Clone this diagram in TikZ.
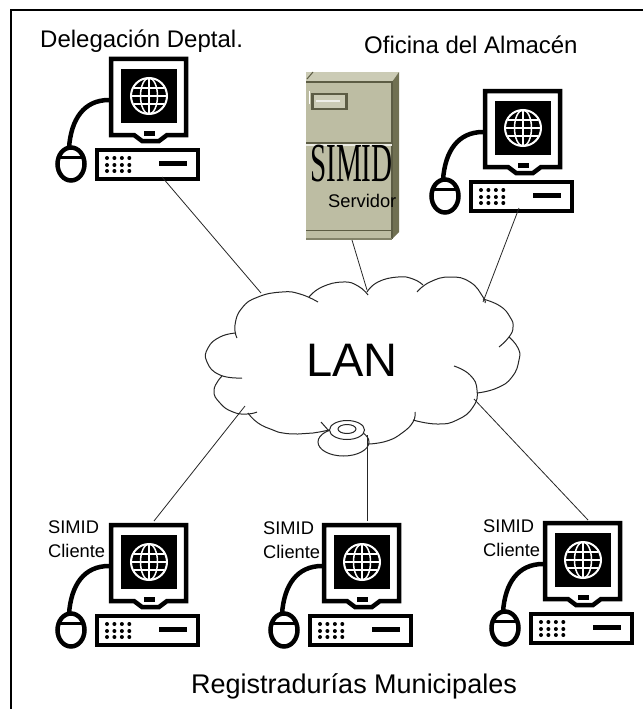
\documentclass[tikz,border=0pt]{standalone}
\usepackage{fontspec}
\setmainfont{Liberation Sans}
\newfontfamily\simidfont{Liberation Serif}
\definecolor{srvfront}{HTML}{BDBDA3}
\definecolor{srvtop}{HTML}{CBCBB5}
\definecolor{srvside}{HTML}{707052}
\definecolor{srvline}{HTML}{5C5C44}
\tikzset{
	pics/computer/.style={code={
		% cable and mouse
		\draw[line width=4.5pt] (0,43) .. controls (-25,43) and (-38,62) .. (-40,91);
		\draw[line width=4.5pt] (-38,107) ellipse [x radius=13.5pt, y radius=16.5pt];
		\draw[line width=3pt] (-50,100) -- (-26,100);
		% monitor
		\draw[line width=4.5pt,fill=white] (2,2) -- (77,2) -- (77,78) -- (58,78) -- (50,84) -- (33,84) -- (25,78) -- (2,78) -- cycle;
		\fill (12,12) rectangle (68,66);
		\fill (35,74) rectangle (46,79);
		% globe
		\draw[white,line width=2pt] (40,39) circle [radius=18pt];
		\draw[white,line width=1.5pt] (40,39) ellipse [x radius=8.5pt, y radius=18pt];
		\draw[white,line width=1.5pt] (40,21) -- (40,57) (22,39) -- (58,39) (25,31) -- (55,31) (25,47) -- (55,47);
		% tower
		\draw[line width=4.5pt] (-12,93) rectangle (89,122);
		\fill (50,104) rectangle (78,109);
		\foreach \px in {-2,5.4,12.9,20.3}
			\foreach \py in {101,108,114}
				\fill (\px,\py) circle [radius=2pt];
	}}
}
\begin{document}
\begin{tikzpicture}[x=1pt,y=-1pt]

	\tikzstyle{cloudline}=[line width=1pt,black!85,smooth,tension=.85]
	\tikzstyle{link}=[line width=0.8pt,black!85]
	\tikzstyle{placetext}=[inner sep=0pt,anchor=base west,font=\fontsize{24}{24}\selectfont]
	\tikzstyle{smalltext}=[inner sep=0pt,anchor=base west,font=\fontsize{18.3}{24}\selectfont,align=left]

	\useasboundingbox (0,0) rectangle (643,709);
	\draw[line width=2pt] (10.5,709) -- (10.5,10.5) -- (643,10.5);

	% computers
	\pic (pcdel) at (109,57) {computer};
	\pic (pcalm) at (483,89) {computer};
	\pic (pcreg1) at (109,523) {computer};
	\pic (pcreg2) at (322,523) {computer};
	\pic (pcreg3) at (543,521) {computer};

	% server
	\fill[srvfront] (306,82) rectangle (392,239);
	\fill[srvtop] (306,72) -- (399,72) -- (392,82) -- (306,82) -- cycle;
	\fill[srvside] (392,82) -- (399,72) -- (399,232) -- (392,239) -- cycle;
	\draw[srvline,line width=1.5pt] (306,82) -- (392,82) -- (392,239);
	\draw[srvline,line width=1pt] (307,79) -- (313,72);
	\draw[srvline,line width=1.2pt] (306,143) -- (392,143);
	\draw[white!70!srvfront,line width=2pt] (306,145) -- (392,145);
	\draw[srvline,line width=1pt] (306,230) -- (392,230);
	\fill[srvline!60!srvfront] (306,238) rectangle (392,239.5);
	\draw[white,line width=1pt] (309,91) -- (309,104);
	\draw[srvline,line width=2.5pt,fill=srvtop] (312.5,94) rectangle (346.5,109);
	\draw[white!70!srvtop,line width=1.5pt] (316,101) -- (340,101);
	\node[inner sep=0pt,anchor=base west,xscale=.53,transform shape,font=\fontsize{55}{55}\simidfont] (srvname) at (310,181) {SIMID};
	\node[smalltext] (srvrole) at (328,207) {Servidor};

	% cloud
	\draw[cloudline] plot[smooth] coordinates {(237,338) (235,325) (242,308) (258,297) (282,292) (300,294) (318,302)};
	\draw[cloudline] plot[smooth] coordinates {(309,297) (322,287) (343,282) (358,286) (368,295)};
	\draw[cloudline] plot[smooth] coordinates {(367,292) (378,282) (398,277) (413,279) (423,285)};
	\draw[cloudline] plot[smooth] coordinates {(417,292) (430,282) (450,277) (470,282) (483,297) (485,303)};
	\draw[cloudline] plot[smooth] coordinates {(483,299) (500,306) (510,317) (513,327) (509,337) (499,347)};
	\draw[cloudline] plot[smooth] coordinates {(509,337) (518,348) (519,360) (512,377) (497,388) (477,393)};
	\draw[cloudline] plot[smooth] coordinates {(454,366) (470,375) (477,390) (473,407) (457,420) (437,424) (413,420)};
	\draw[cloudline] plot[smooth] coordinates {(415,412) (413,422) (402,433) (387,441) (369,444)};
	\draw[cloudline] plot[smooth] coordinates {(248,413) (258,423) (273,430) (283,433) (298,434) (313,433) (329,430)};
	\draw[cloudline] plot[smooth] coordinates {(222,376) (214,390) (220,403) (233,412) (247,414) (257,412)};
	\draw[cloudline] plot[smooth] coordinates {(236,333) (220,337) (208,348) (207,362) (220,375) (242,378)};
	\node[inner sep=0pt,anchor=base west,font=\fontsize{47}{47}\selectfont] (lan) at (306,376) {LAN};

	% ring under the cloud
	\draw[line width=1pt,black!85] (343.5,442) ellipse [x radius=25.5pt, y radius=14pt];
	\draw[line width=1pt,black!85,fill=white] (347,430) ellipse [x radius=17.5pt, y radius=9.5pt];
	\draw[line width=1pt,black!85] (347,429) ellipse [x radius=9pt, y radius=4.5pt];
	\draw[line width=1pt,black!85] (321,422) -- (329,431);

	% ends of the links
	\coordinate (lan1) at (261,293);
	\coordinate (lan2) at (367,290);
	\coordinate (lan3) at (483,302);
	\coordinate (lan4) at (245,406);
	\coordinate (lan5) at (367,435);
	\coordinate (lan6) at (474,399);
	\coordinate (enddel) at (162,177);
	\coordinate (endsrv) at (352,240);
	\coordinate (endalm) at (519,208);
	\coordinate (endreg1) at (154,521);
	\coordinate (endreg2) at (367,521);
	\coordinate (endreg3) at (588,520);
	\draw[link] (enddel) -- (lan1);
	\draw[link] (endsrv) -- (lan2);
	\draw[link] (endalm) -- (lan3);
	\draw[link] (endreg1) -- (lan4);
	\draw[link] (endreg2) -- (lan5);
	\draw[link] (endreg3) -- (lan6);

	% labels
	\node[placetext] (deleg) at (40,48) {Delegación Deptal.};
	\node[placetext] (ofic) at (364,53) {Oficina del Almacén};
	\node[smalltext,anchor=north west] (cli1) at (48,521) {SIMID\\Cliente};
	\node[smalltext,anchor=north west] (cli2) at (263,522) {SIMID\\Cliente};
	\node[smalltext,anchor=north west] (cli3) at (483,520) {SIMID\\Cliente};
	\node[placetext,font=\fontsize{27}{27}\selectfont] (regis) at (191,693) {Registradurías Municipales};
\end{tikzpicture}
\end{document}
